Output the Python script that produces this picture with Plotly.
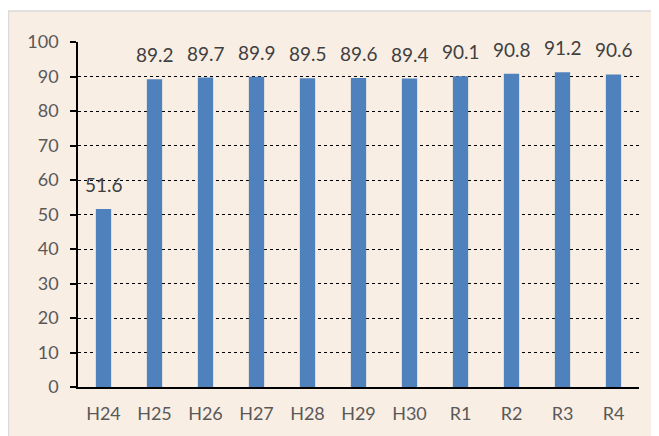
import plotly.graph_objects as go

categories = ["H24", "H25", "H26", "H27", "H28", "H29", "H30", "R1", "R2", "R3", "R4"]
values = [51.6, 89.2, 89.7, 89.9, 89.5, 89.6, 89.4, 90.1, 90.8, 91.2, 90.6]
labels = [f"{v:.1f}" for v in values]

# page body has an 8px margin, so the figure starts at (8, 8) on screen
OFF = 8
W, H = 659 - OFF, 436 - OFF
L, T = 78 - OFF, 42 - OFF
R = W - (639 - OFF)
B = H - (387 - OFF)
pw, ph = W - L - R, H - T - B

def px_x(x):
    return (x - L) / pw

def px_y(y):
    return (H - B - y) / ph

FONT = "Lato"

fig = go.Figure()
fig.add_trace(go.Bar(
    x=categories, y=values,
    marker=dict(color="#4F81BD", line=dict(width=0)),
    hoverinfo="skip",
))

for c, v, t in zip(categories, values, labels):
    fig.add_annotation(x=c, y=v, text=t, showarrow=False, yanchor="bottom",
                       yshift=11, font=dict(family=FONT, size=19, color="#404040"))

fig.add_shape(type="rect", xref="paper", yref="paper",
              x0=px_x(0.5), x1=px_x(W + 5), y0=px_y(H + 5), y1=px_y(3),
              fillcolor="#F9EEE4", line=dict(color="#D9D9D9", width=1.5), layer="below")

fig.update_layout(
    width=W, height=H,
    margin=dict(l=L, r=R, t=T, b=B, pad=0),
    paper_bgcolor="white",
    plot_bgcolor="rgba(0,0,0,0)",
    bargap=0.7,
    showlegend=False,
    font=dict(family=FONT, size=18, color="#595959"),
)
fig.update_yaxes(
    range=[0, 100], dtick=10, tick0=0,
    showgrid=True, gridcolor="#000000", griddash="dot", gridwidth=1,
    showline=True, linecolor="#000000", linewidth=1.5,
    ticks="outside", ticklen=6, tickcolor="#000000", tickwidth=1.5,
    ticklabelstandoff=8,
    zeroline=False,
    tickfont=dict(family=FONT, size=18, color="#595959"),
    fixedrange=True,
)
fig.update_xaxes(
    showline=True, linecolor="#000000", linewidth=1.5,
    ticks="outside", ticklen=10, tickcolor="rgba(0,0,0,0)",
    showgrid=False,
    tickfont=dict(family=FONT, size=18, color="#595959"),
    fixedrange=True,
)

fig.write_html("out.html")
